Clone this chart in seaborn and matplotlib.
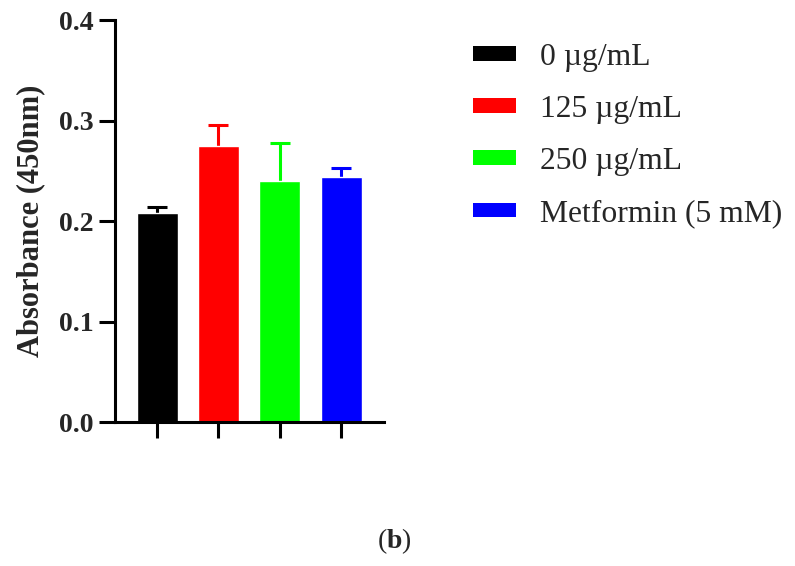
import numpy as np
import matplotlib
matplotlib.use("Agg")
import matplotlib.pyplot as plt
import seaborn as sns
from matplotlib.patches import Patch

# data
groups = ["0 µg/mL", "125 µg/mL", "250 µg/mL", "Metformin (5 mM)"]
means = [0.208, 0.275, 0.240, 0.244]
errors = [0.006, 0.021, 0.038, 0.009]
colors = ["#000000", "#ff0000", "#00ff00", "#0000ff"]

sns.set_style("ticks")
plt.rcParams['font.family'] = ['Liberation Serif', 'DejaVu Serif']
plt.rcParams['mathtext.fontset'] = 'custom'
plt.rcParams['mathtext.rm'] = 'Liberation Serif'
plt.rcParams['mathtext.bf'] = 'Liberation Serif:bold'

fig = plt.figure(figsize=(7.95, 5.66), dpi=100)
ax = fig.add_axes([0.1447, 0.2544, 0.3384, 0.7102])

sns.barplot(x=groups, y=means, hue=groups, palette=colors, width=0.67,
            saturation=1, dodge=False, legend=False, ax=ax, zorder=2)

# error bars, upper half only
x = np.arange(len(groups))
for i in range(len(groups)):
    eb = ax.errorbar(x[i], means[i], yerr=[[0], [errors[i]]], fmt='none',
                     ecolor=colors[i], elinewidth=2.2, capsize=7.5, capthick=2.2,
                     zorder=1)
    eb[1][0].set_visible(False)  # drop the lower cap

ax.set_ylim(0, 0.4)
ax.set_xlim(-0.685, 3.70)
ax.set_yticks([0.0, 0.1, 0.2, 0.3, 0.4])
ax.set_yticklabels(["0.0", "0.1", "0.2", "0.3", "0.4"], fontweight='bold', fontsize=20)
ax.set_xticks(x)
ax.set_xticklabels([])
ax.set_xlabel("")
ax.set_ylabel("Absorbance (450nm)", fontweight='bold', fontsize=22, labelpad=10)
ax.tick_params(axis='both', length=11.5, width=2.2, color='black', pad=4)
sns.despine(ax=ax)
for s in ["left", "bottom"]:
    ax.spines[s].set_linewidth(2.2)
    ax.spines[s].set_color("black")

handles = [Patch(facecolor=c, edgecolor='none') for c in colors]
fig.legend(handles, groups, loc='upper left', bbox_to_anchor=(0.595, 1 - 43 / 566),
           frameon=False, fontsize=22.8, handlelength=1.36, handleheight=0.35,
           handletextpad=0.76, labelspacing=0.73, borderpad=0, borderaxespad=0)

fig.text(0.496, 1 - 541 / 566, r"($\mathbf{b}$)", ha='center', va='center', fontsize=20)

fig.savefig("out.png", dpi=100)
